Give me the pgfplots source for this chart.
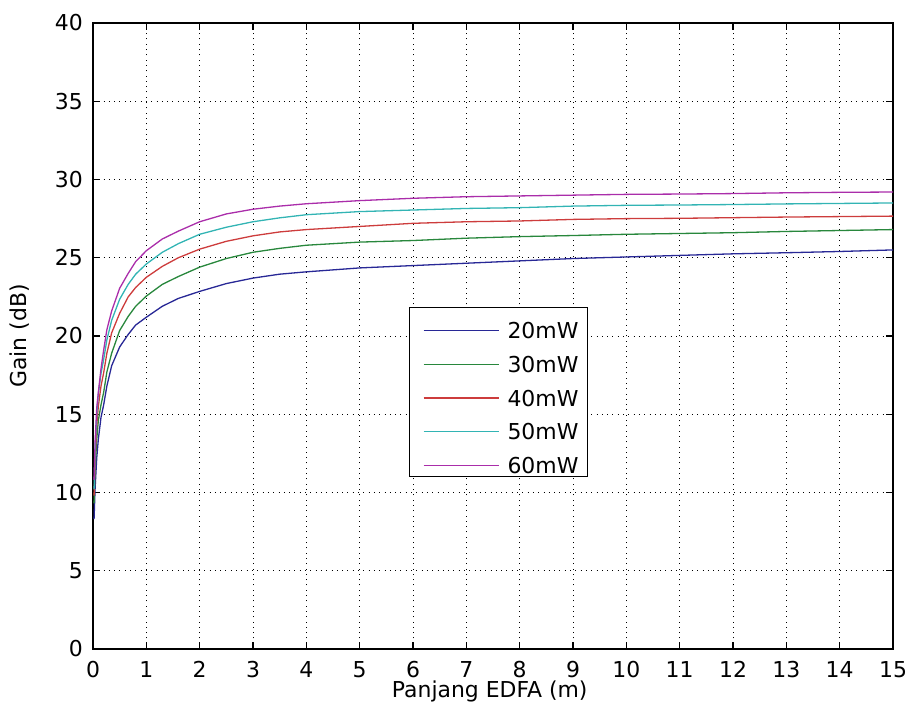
\documentclass[border=0pt]{standalone}
\usepackage{fontspec}
\setmainfont{DejaVu Sans}
\usepackage{pgfplots}
\usepackage{pgfplotstable}
\pgfplotsset{compat=1.18}
\definecolor{cblue}{RGB}{40,40,150}
\definecolor{cgreen}{RGB}{40,135,60}
\definecolor{cred}{RGB}{205,60,60}
\definecolor{ccyan}{RGB}{50,180,180}
\definecolor{cpurple}{RGB}{170,45,170}
\pgfplotstableread{
x     p20    p30    p40    p50    p60
0.02  8.3    9.3    9.8    10.2   10.8
0.04  10.3   11.5   12.2   12.8   13.3
0.07  12.2   13.4   14.3   15.0   15.4
0.10  13.4   14.6   15.5   16.3   16.4
0.15  14.8   15.6   16.8   17.6   17.9
0.20  15.6   16.4   17.65  18.5   19.1
0.26  16.8   17.7   18.9   19.75  20.4
0.35  18.1   18.9   20.2   21.0   21.6
0.50  19.3   20.35  21.45  22.35  23.05
0.66  20.1   21.25  22.5   23.3   24.0
0.80  20.7   21.9   23.1   23.95  24.75
1.0   21.2   22.55  23.75  24.6   25.45
1.3   21.9   23.3   24.45  25.35  26.2
1.6   22.4   23.8   25.0   25.9   26.7
2.0   22.85  24.4   25.55  26.5   27.3
2.5   23.35  24.95  26.05  26.95  27.8
3.0   23.7   25.35  26.4   27.3   28.1
3.5   23.95  25.6   26.65  27.55  28.3
4     24.1   25.8   26.8   27.75  28.45
5     24.35  26.0   27.0   27.95  28.65
6     24.5   26.1   27.2   28.05  28.8
7     24.65  26.25  27.3   28.15  28.9
8     24.8   26.35  27.35  28.2   28.95
9     24.95  26.42  27.45  28.3   29.0
10    25.05  26.5   27.5   28.35  29.05
11    25.15  26.55  27.52  28.37  29.07
12    25.25  26.6   27.56  28.4   29.1
13    25.32  26.68  27.6   28.44  29.15
14    25.4   26.74  27.63  28.47  29.18
15    25.5   26.8   27.66  28.5   29.2
}\gaindata
\begin{document}
\begin{tikzpicture}
\useasboundingbox (-93bp,-76bp) rectangle (816bp,649bp);
\begin{axis}[
  at={(0,0)}, anchor=south west,
  scale only axis,
  width=800bp, height=626bp,
  xmin=0, xmax=15, ymin=0, ymax=40,
  xtick={0,1,...,15}, ytick={0,5,...,40},
  grid=major,
  major grid style={black, line width=0.9bp, dash pattern=on 1bp off 4.3bp},
  axis line style={black, line width=1.1bp},
  major tick length=7bp,
  every tick/.style={black, line width=1.1bp},
  tick align=inside,
  font=\fontsize{22}{26}\selectfont,
  /pgf/number format/assume math mode=true,
  xticklabel style={inner sep=0pt, anchor=north},
  yticklabel style={inner sep=0pt, anchor=east},
  xticklabel shift=12bp,
  yticklabel shift=10bp,
  xlabel={Panjang EDFA (m)},
  ylabel={Gain (dB)},
  xlabel style={at={(axis description cs:0.4959,-0.0775)}, anchor=base, inner sep=0pt},
  ylabel style={at={(axis description cs:-0.0913,0.5)}, anchor=center, inner sep=0pt},
  legend style={at={(axis cs:5.925,21.85)}, anchor=north west, draw=black, line width=1.1bp,
    fill=white, inner xsep=9bp, inner ysep=0bp, row sep=0bp,
    nodes={inner sep=0pt, text height=31bp, text depth=2.75bp, anchor=west, line width=1.1bp}},
  legend cell align=left,
  legend image code/.code={\draw[#1, line width=1.3bp] (5bp,-6bp) -- (80bp,-6bp); \path[draw=none, fill=none] (0bp,-6bp) -- (89bp,-6bp);},
]
\addplot[cblue, line width=1.3bp] table[x=x, y=p20] {\gaindata};
\addlegendentry{20mW}
\addplot[cgreen, line width=1.3bp] table[x=x, y=p30] {\gaindata};
\addlegendentry{30mW}
\addplot[cred, line width=1.3bp] table[x=x, y=p40] {\gaindata};
\addlegendentry{40mW}
\addplot[ccyan, line width=1.3bp] table[x=x, y=p50] {\gaindata};
\addlegendentry{50mW}
\addplot[cpurple, line width=1.3bp] table[x=x, y=p60] {\gaindata};
\addlegendentry{60mW}
\end{axis}
\end{tikzpicture}
\end{document}
